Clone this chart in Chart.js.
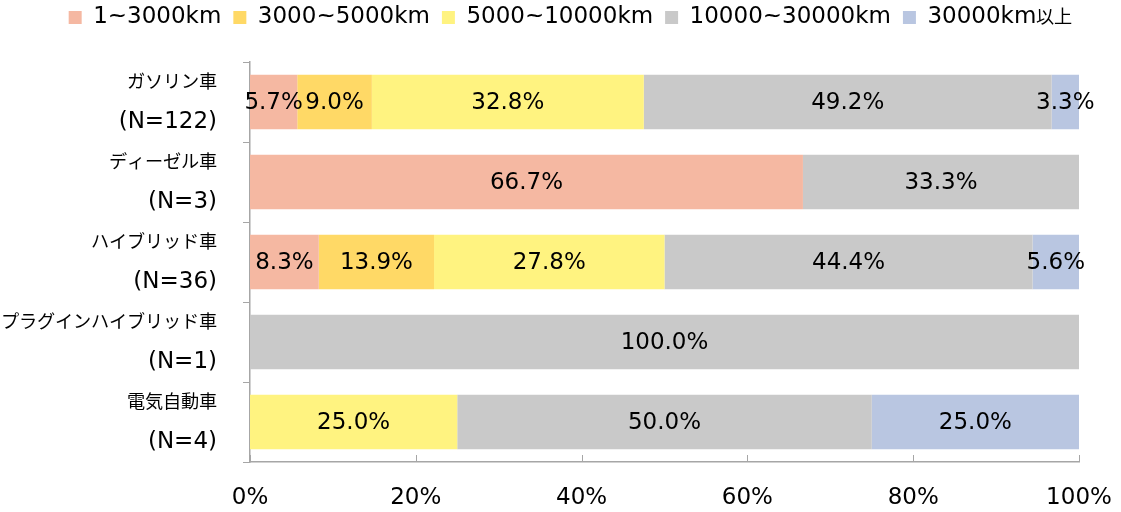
<!DOCTYPE html>
<html>
<head>
<meta charset="utf-8">
<style>
  @font-face {
    font-family: 'JPFont';
    src: local('Noto Sans CJK JP'), local('Noto Sans CJK JP Regular'), local('NotoSansCJKjp-Regular');
    size-adjust: 79%;
  }
  html, body { margin: 0; padding: 0; background: #fff; }
  #wrap { width: 1121px; height: 512px; }
</style>
<script src="https://cdn.jsdelivr.net/npm/chart.js@4.4.1/dist/chart.umd.min.js"></script>
</head>
<body>
<div id="wrap"><canvas id="kyoriChart"></canvas></div>
<script>
const categorias = [
  ['ガソリン車', '(N=122)'],
  ['ディーゼル車', '(N=3)'],
  ['ハイブリッド車', '(N=36)'],
  ['プラグインハイブリッド車', '(N=1)'],
  ['電気自動車', '(N=4)']
];
const faixas = ['1~3000km', '3000~5000km', '5000~10000km', '10000~30000km', '30000km以上'];
const km1a3000 = [5.7, 66.7, 8.3, null, null];
const km3000a5000 = [9.0, null, 13.9, null, null];
const km5000a10000 = [32.8, null, 27.8, null, 25.0];
const km10000a30000 = [49.2, 33.3, 44.4, 100.0, 50.0];
const km30000mais = [3.3, null, 5.6, null, 25.0];
const cores = ['#F5B8A2', '#FFD966', '#FFF380', '#C9C9C9', '#B9C6E1'];
const ticksX = [0, 20, 40, 60, 80, 100];

const FONTE = "'DejaVu Sans', JPFont, 'Noto Sans CJK JP', sans-serif";
const COR_EIXO = '#A6A6A6';

// rótulos no centro de cada segmento
const rotulosBarras = {
  id: 'rotulosBarras',
  afterDatasetsDraw(chart) {
    const ctx = chart.ctx;
    ctx.save();
    ctx.font = '23px ' + FONTE;
    ctx.fillStyle = '#000';
    ctx.textAlign = 'center';
    ctx.textBaseline = 'middle';
    chart.data.datasets.forEach((ds, i) => {
      const meta = chart.getDatasetMeta(i);
      meta.data.forEach((bar, j) => {
        const v = ds.data[j];
        if (v == null) return;
        const p = bar.getProps(['x', 'base', 'y'], true);
        ctx.fillText(v.toFixed(1) + '%', (p.x + p.base) / 2, p.y + 1);
      });
    });
    ctx.restore();
  }
};

// marcas do eixo x para dentro
const marcasX = {
  id: 'marcasX',
  afterDraw(chart) {
    const sx = chart.scales.x;
    const ctx = chart.ctx;
    ctx.save();
    ctx.strokeStyle = COR_EIXO;
    ctx.lineWidth = 1;
    ticksX.forEach(t => {
      const px = Math.round(sx.getPixelForValue(t)) + 0.5;
      ctx.beginPath();
      ctx.moveTo(px, sx.top);
      ctx.lineTo(px, sx.top - 7);
      ctx.stroke();
    });
    ctx.restore();
  }
};

// legenda: altura fixa e deslocada para a direita
const ajusteLegenda = {
  id: 'ajusteLegenda',
  beforeInit(chart) {
    const fitOriginal = chart.legend.fit;
    chart.legend.fit = function () {
      fitOriginal.bind(chart.legend)();
      this.height = 68;
    };
  },
  afterLayout(chart) {
    chart.legend.left += 31;
    chart.legend.right += 31;
  }
};

function desenhar() {
  Chart.defaults.color = '#000';
  Chart.defaults.font.family = FONTE;

  const series = [km1a3000, km3000a5000, km5000a10000, km10000a30000, km30000mais];

  new Chart(document.getElementById('kyoriChart'), {
    type: 'bar',
    data: {
      labels: categorias,
      datasets: faixas.map((nome, i) => ({
        label: nome,
        data: series[i],
        backgroundColor: cores[i],
        borderWidth: 0,
        barPercentage: 0.68,
        categoryPercentage: 1
      }))
    },
    options: {
      indexAxis: 'y',
      responsive: true,
      maintainAspectRatio: false,
      animation: false,
      layout: { padding: { top: -6, right: 42, bottom: 0, left: 0 } },
      plugins: {
        legend: {
          position: 'top',
          labels: { boxWidth: 13, boxHeight: 13, padding: 12, font: { size: 23 } }
        },
        tooltip: { enabled: false }
      },
      scales: {
        x: {
          stacked: true,
          min: 0,
          max: 100,
          afterFit(scale) {
            scale.height = 50;
            scale.paddingLeft = 0;
            scale.paddingRight = 0;
          },
          afterBuildTicks(scale) { scale.ticks = ticksX.map(v => ({ value: v })); },
          border: { display: true, color: COR_EIXO, width: 1.5 },
          grid: { display: false, drawTicks: false },
          ticks: {
            padding: 22,
            autoSkip: false,
            maxRotation: 0,
            font: { size: 23 },
            callback: v => v + '%'
          }
        },
        y: {
          stacked: true,
          afterFit(scale) {
            scale.width = 250;
            scale.paddingTop = 0;
            scale.paddingBottom = 0;
          },
          border: { display: true, color: COR_EIXO, width: 1.5 },
          grid: { display: true, drawOnChartArea: false, offset: true, tickLength: 7, color: COR_EIXO },
          ticks: { padding: 26, autoSkip: false, font: { size: 23, lineHeight: 1.74 } }
        }
      }
    },
    plugins: [rotulosBarras, marcasX, ajusteLegenda]
  });
}

document.fonts.load('20px JPFont', '車').then(desenhar, desenhar);
</script>
</body>
</html>
